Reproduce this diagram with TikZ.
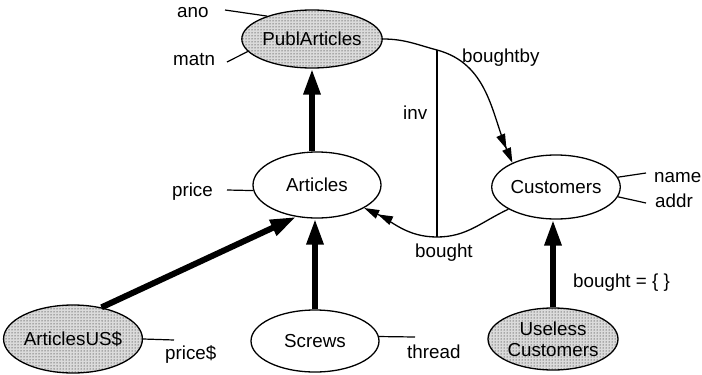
\documentclass[tikz,border=0pt]{standalone}
\usepackage{fontspec}
\setmainfont{Liberation Sans}
\usetikzlibrary{shapes.geometric,arrows.meta,patterns}
\begin{document}
\begin{tikzpicture}[x=1pt,y=-1pt,
  font=\fontsize{18.8}{21}\selectfont,
  cls/.style={ellipse, draw, line width=1.3pt, inner sep=0pt},
  shaded/.style={cls, preaction={fill=black!14}, pattern=dots, pattern color=black},
  attr/.style={line width=1.2pt},
  lbl/.style={inner sep=0pt, anchor=base west},
  isa/.style={line width=6pt, -{Triangle[length=26pt,width=16pt]}},
  rel/.style={line width=1.3pt,
    -{Triangle[length=15pt,width=9pt]Triangle[length=15pt,width=9pt]}}]
\useasboundingbox (0,0) rectangle (702,375);

% classes
\node[shaded, minimum width=130pt, minimum height=58pt] (pa) at (312,39) {PublArticles};
\node[cls, minimum width=128pt, minimum height=66pt] (ar) at (317,185) {Articles};
\node[cls, minimum width=126pt, minimum height=64pt] (cu) at (556,187) {Customers};
\node[shaded, minimum width=130pt, minimum height=68pt] (aus) at (73,339) {ArticlesUS\$};
\node[cls, minimum width=128pt, minimum height=62pt] (sc) at (315,341) {Screws};
\node[shaded, minimum width=130pt, minimum height=62pt, align=center] (uc) at (553,339) {Useless\\Customers};

% attribute names
\node[lbl] (ano) at (177,17) {ano};
\node[lbl] (matn) at (173,65) {matn};
\node[lbl, anchor=base east] (price) at (213,196) {price};
\node[lbl] (name) at (654,182) {name};
\node[lbl] (addr) at (655,207) {addr};
\node[lbl] (pdol) at (165,359) {price\$};
\node[lbl] (thread) at (407,358) {thread};

% attribute stubs
\coordinate (anoL) at (225,10);
\coordinate (matnL) at (227,62);
\coordinate (priceL) at (227,190);
\coordinate (nameL) at (646,173);
\coordinate (addrL) at (646,203);
\coordinate (pdolL) at (174,340);
\coordinate (threadL) at (415,337);
\draw[attr] (anoL) -- (pa.153);
\draw[attr] (matnL) -- (pa.191);
\draw[attr] (priceL) -- (ar.185);
\draw[attr] (cu.9) -- (nameL);
\draw[attr] (cu.-9) -- (addrL);
\draw[attr] (aus.east) -- (pdolL);
\draw[attr] (sc.4) -- (threadL);

% specialisation arrows
\draw[isa] (pa.south |- ar.north) -- (pa.south);
\draw[isa] (aus.48) -- (ar.237);
\draw[isa] (sc.north) -- (sc.north |- ar.south);
\draw[isa] (uc.north) -- (uc.north |- cu.south);

% relationships and their inverse link
\coordinate (invT) at (437,50);
\coordinate (invB) at (437,237);
\draw[rel] (pa.east) to[out=0,in=165] (invT) to[out=-15,in=113] (cu.151);
\draw[rel] (cu.205) to[out=205,in=0] (invB) to[out=180,in=-25] (ar.-26);
\draw[attr] (invT) -- (invB);

% relationship labels
\node[lbl] (lbby) at (462,62) {boughtby};
\node[lbl] (linv) at (403,119) {inv};
\node[lbl] (lbt) at (415,257) {bought};
\node[lbl] (lbte) at (573,287) {bought = \{ \}};
\end{tikzpicture}
\end{document}
